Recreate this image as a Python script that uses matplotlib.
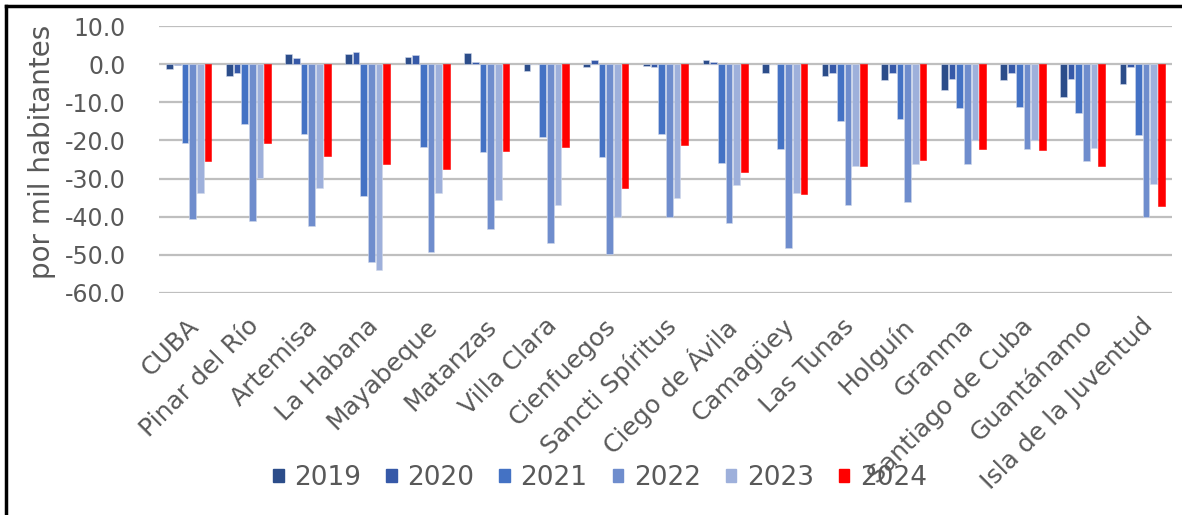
import matplotlib
matplotlib.use("Agg")
import matplotlib.pyplot as plt
import matplotlib.transforms as mtransforms
import numpy as np
from matplotlib.lines import Line2D

categories = ["CUBA", "Pinar del Río", "Artemisa", "La Habana", "Mayabeque", "Matanzas",
              "Villa Clara", "Cienfuegos", "Sancti Spíritus", "Ciego de Ávila", "Camagüey",
              "Las Tunas", "Holguín", "Granma", "Santiago de Cuba", "Guantánamo",
              "Isla de la Juventud"]
years = ["2019", "2020", "2021", "2022", "2023", "2024"]

v2019 = [-1.4, -3.1, 2.6, 2.6, 2.0, 3.0, -1.7, -0.7, -0.4, 1.2, -2.4, -3.1, -4.1, -6.8, -4.1, -8.6, -5.1]
v2020 = [-0.3, -2.2, 1.7, 3.3, 2.4, 0.5, 0.0, 1.2, -0.7, 0.5, 0.0, -2.2, -2.4, -3.8, -2.2, -3.8, -0.7]
v2021 = [-20.6, -15.6, -18.3, -34.7, -21.7, -23.0, -19.0, -24.3, -18.3, -25.8, -22.3, -14.9, -14.3, -11.5, -11.2, -12.9, -18.6]
v2022 = [-40.6, -41.2, -42.5, -52.0, -49.3, -43.2, -46.9, -49.9, -40.1, -41.6, -48.3, -36.8, -36.1, -26.3, -22.3, -25.4, -40.1]
v2023 = [-33.8, -29.9, -32.4, -54.0, -33.8, -35.5, -36.8, -40.1, -35.1, -31.8, -33.8, -26.7, -26.1, -19.8, -19.8, -21.9, -31.4]
v2024 = [-25.4, -20.6, -24.1, -26.3, -27.4, -22.7, -21.7, -32.4, -21.3, -28.4, -34.1, -26.7, -25.0, -22.3, -22.6, -26.7, -37.1]

series = [v2019, v2020, v2021, v2022, v2023, v2024]
colors = ["#2C4D8A", "#3659A8", "#4472C4", "#6F8DCD", "#9EB0DB", "#FF0000"]

fig = plt.figure(figsize=(11.82, 5.15), dpi=100)
ax = fig.add_axes([159/1182, 1-293/515, (1172-159)/1182, (293-26)/515])

x = np.arange(len(categories))
step = 0.129
width = 0.112
for j, (vals, c) in enumerate(zip(series, colors)):
    ax.bar(x + (j - 2.5) * step, vals, width=width, color=c,
           edgecolor="#D0D8EA" if j < 5 else "#FF0000", linewidth=0.4, label=years[j], zorder=3)

ax.set_xlim(-0.5, len(categories) - 0.5)
ax.set_ylim(-60, 10)
ax.set_yticks(np.arange(-60, 11, 10))
ax.set_yticklabels([f"{v:.1f}" for v in np.arange(-60, 11, 10)])
ax.yaxis.grid(True, color="#BFBFBF", linewidth=1.6, zorder=0)
ax.set_axisbelow(True)
for s in ax.spines.values():
    s.set_visible(False)
ax.tick_params(axis="y", length=0, pad=24, labelsize=17, labelcolor="#595959")
ax.tick_params(axis="x", length=0, pad=15, labelsize=18, labelcolor="#595959")
ax.set_xticks(x)
ax.set_xticklabels(categories, rotation=45, ha="right", rotation_mode="anchor")
offset = mtransforms.ScaledTranslation(-2/100, 0, fig.dpi_scale_trans)
for lab in ax.get_xticklabels():
    lab.set_transform(lab.get_transform() + offset)
ax.set_ylabel("por mil habitantes", fontsize=20, color="#595959")
ax.yaxis.set_label_coords(-0.102, 0.53)

handles = [plt.Rectangle((0, 0), 1, 1, color=c) for c in colors]
leg = fig.legend(handles, years, loc="center", bbox_to_anchor=(600/1182, 1-478/515), ncol=6,
                 frameon=False, fontsize=19, handlelength=0.4, handleheight=0.4,
                 handletextpad=0.4, columnspacing=0.95, labelcolor="#595959")

# black frame lines on left and top
fig.add_artist(Line2D([6/1182, 6/1182], [0, 1-6/515], color="black", linewidth=2.5, transform=fig.transFigure))
fig.add_artist(Line2D([6/1182, 1], [1-6/515, 1-6/515], color="black", linewidth=2.5, transform=fig.transFigure))

fig.savefig("out.png", dpi=100)
